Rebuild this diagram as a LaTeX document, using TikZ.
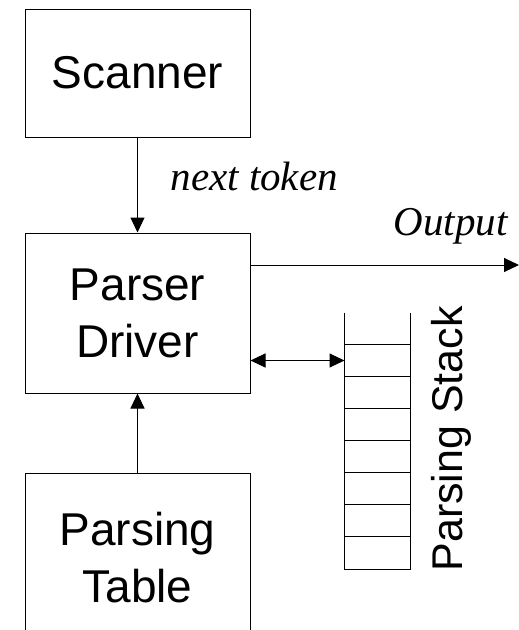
\documentclass[tikz,border=0pt]{standalone}
\usepackage{fontspec}
\setmainfont{Liberation Sans}
\newfontfamily\serifit{Liberation Serif}
\usetikzlibrary{arrows.meta, positioning, calc}

\begin{document}
\begin{tikzpicture}[x=1pt, y=-1pt,
        line width=1pt,
        block/.style={draw, minimum width=225pt, inner sep=0pt, align=center,
            font=\fontsize{46}{57}\selectfont},
        link/.style={-{Triangle[length=15pt, width=14pt]}},
        twolink/.style={{Triangle[length=15pt, width=14pt]}-{Triangle[length=15pt, width=14pt]}},
        tag/.style={inner sep=0pt, font=\serifit\itshape\fontsize{41}{48}\selectfont}
    ]
    \useasboundingbox (0,0) rectangle (519,630);

    % Khoi chinh
    \node[block, minimum height=128pt] (scanner) at (137.5,73) {Scanner};
    \node[block, minimum height=160pt] (driver) at (137.5,313) {Parser\\Driver};
    \node[block, minimum height=170pt] (table) at (137.5,558) {Parsing\\Table};

    % Ngan xep
    \node[minimum width=65pt, minimum height=256pt, inner sep=0pt] (stack) at (377.5,441) {};
    \draw (stack.north west) -- (stack.south west) -- (stack.south east) -- (stack.north east);
    \foreach \i in {1,...,7}
        \draw ($(stack.north west)+(0,32*\i)$) -- ($(stack.north east)+(0,32*\i)$);
    \coordinate (cell) at ($(stack.north west)+(0,48)$);
    \node[inner sep=0pt, rotate=90, anchor=base west, font=\fontsize{43}{50}\selectfont]
        (stacklabel) at (462,572) {Parsing Stack};

    % Cac mui ten
    \coordinate (out) at (519,265);
    \draw[link] (scanner) -- (driver);
    \draw[link] (table) -- (driver);
    \draw[link] (driver.east |- out) -- (out);
    \draw[twolink] (driver.east |- cell) -- (cell);

    % Nhan
    \node[tag, anchor=base west] (next) at (170,190) {next token};
    \node[tag, anchor=base east] (output) at (508,235) {Output};
\end{tikzpicture}
\end{document}
